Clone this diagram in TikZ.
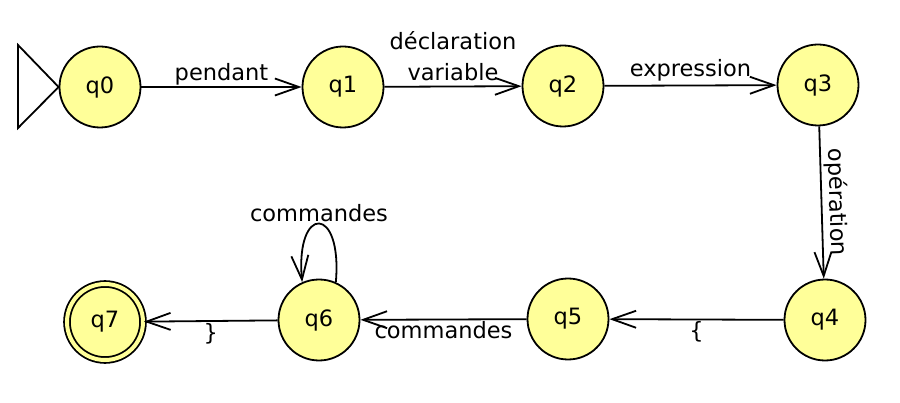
\documentclass[tikz,border=0pt]{standalone}
\usepackage{fontspec}
\setmainfont{DejaVu Sans}
\usetikzlibrary{arrows.meta}
\definecolor{statecolor}{RGB}{255,255,153}

\begin{document}
\begin{tikzpicture}[x=1pt,y=1pt,
      state/.style={circle, draw, line width=1.8pt, fill=statecolor, minimum size=81pt, inner sep=0pt, font=\fontsize{22.5}{27}\selectfont},
      accepting/.style={double=statecolor, double distance=4pt, minimum size=76pt},
      trans/.style={line width=1.8pt, -{Straight Barb[length=24pt,width=17pt,line width=1.8pt]}},
      lab/.style={font=\fontsize{22.5}{27}\selectfont, inner sep=1pt}]
      \useasboundingbox (0,0) rectangle (900,402);
            \node[state] (q0) at (100,315) {q0};
            \node[state] (q1) at (343,315) {q1};
            \node[state] (q2) at (563,316) {q2};
            \node[state] (q3) at (818,317) {q3};
            \node[state] (q4) at (825,82) {q4};
            \node[state] (q5) at (568,83) {q5};
            \node[state] (q6) at (319,82) {q6};
            \node[state, accepting] (q7) at (105,80) {q7};

            \coordinate (initTop) at (18,357);
            \coordinate (initBottom) at (18,274);
            \draw[line width=1.8pt] (q0.west) -- (initTop) -- (initBottom) -- cycle;

            \draw[trans] (q0) -- node[lab, above] {pendant} (q1);
            \draw[trans] (q1) -- node[lab, above, align=center, inner sep=5pt] {déclaration\\[4pt]variable} (q2);
            \draw[trans] (q2) -- node[lab, above, inner sep=3pt] {expression} (q3);
            \draw[trans] (q3) -- node[lab, above, sloped, inner sep=3pt] {opération} (q4);
            \draw[trans] (q4) -- node[lab, below] {\{} (q5);
            \draw[trans] (q5) -- node[lab, below] {commandes} (q6);
            \draw[trans] (q6) -- node[lab, below] {\}} (q7);
            \draw[trans] (q6.66) to[out=85, in=95, distance=78pt] node[lab, above] {commandes} (q6.114);
        \end{tikzpicture}
\end{document}
